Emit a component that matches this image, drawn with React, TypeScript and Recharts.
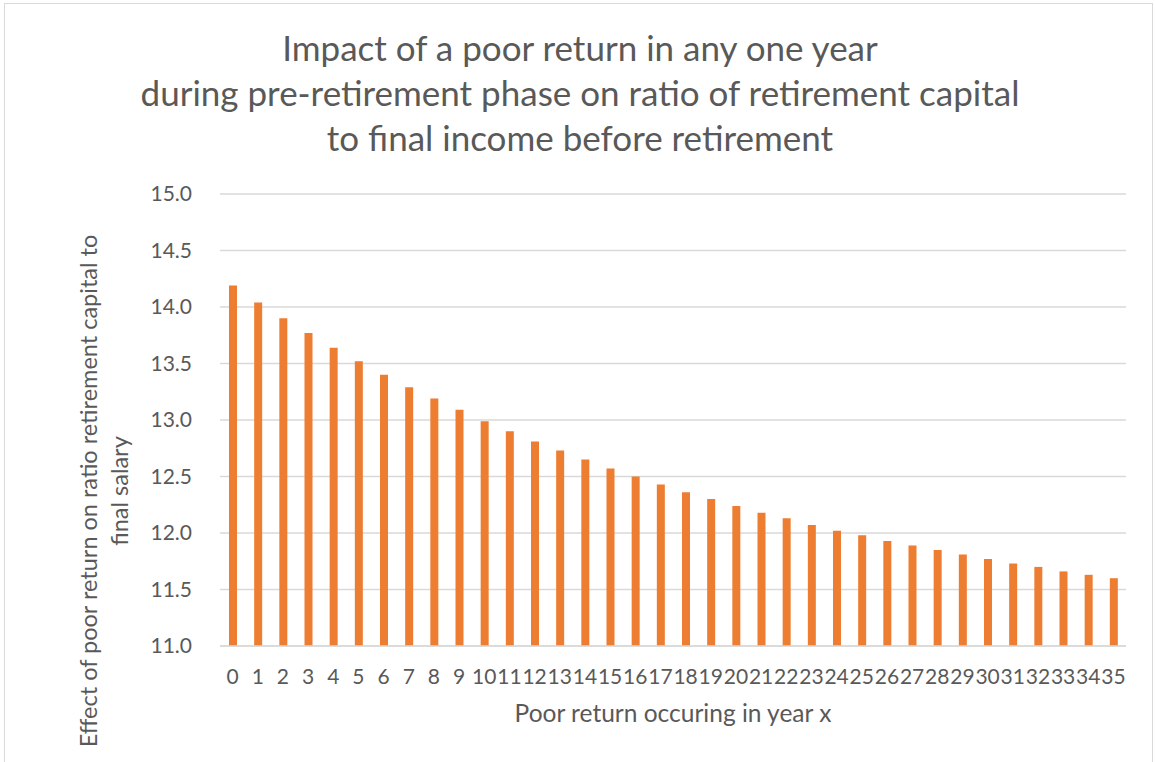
import React from "react";
import { BarChart, Bar, XAxis, YAxis, CartesianGrid } from "recharts";

const years: string[] = [
  "0", "1", "2", "3", "4", "5", "6", "7", "8", "9", "10", "11", "12", "13", "14", "15", "16", "17",
  "18", "19", "20", "21", "22", "23", "24", "25", "26", "27", "28", "29", "30", "31", "32", "33", "34", "35",
];

const ratioValues: number[] = [
  14.19, 14.04, 13.9, 13.77, 13.64, 13.52, 13.4, 13.29, 13.19, 13.09, 12.99, 12.9,
  12.81, 12.73, 12.65, 12.57, 12.5, 12.43, 12.36, 12.3, 12.24, 12.18, 12.13, 12.07,
  12.02, 11.98, 11.93, 11.89, 11.85, 11.81, 11.77, 11.73, 11.7, 11.66, 11.63, 11.6,
];

const yTicks: number[] = [11, 11.5, 12, 12.5, 13, 13.5, 14, 14.5, 15];

const titleLines: string[] = [
  "Impact of a poor return in any one year",
  "during pre-retirement phase on ratio of retirement capital",
  "to final income before retirement",
];

const xTitle = "Poor return occuring in year x";
const yTitleLines: string[] = [
  "Effect of poor return on ratio retirement capital to",
  "final salary",
];

const data = years.map((y, i) => ({ year: y, value: ratioValues[i] }));

const FONT = "Lato, 'Open Sans', sans-serif";
const TEXT = "#595959";

export default function App() {
  return (
    <div
      style={{
        position: "absolute",
        left: 0,
        top: 0,
        width: 1155,
        height: 762,
        overflow: "hidden",
        background: "#fff",
        fontFamily: FONT,
      }}
    >
      <div
        style={{
          position: "absolute",
          left: 4,
          top: 3,
          width: 1149,
          height: 800,
          border: "1px solid #d9d9d9",
          boxSizing: "border-box",
        }}
      />
      <svg
        width={1155}
        height={170}
        style={{ position: "absolute", left: 0, top: 0 }}
      >
        {titleLines.map((t, i) => (
          <text
            key={i}
            x={580}
            y={61 + i * 45}
            textAnchor="middle"
            fontFamily={FONT}
            fontSize={35}
            fill={TEXT}
          >
            {t}
          </text>
        ))}
      </svg>
      <div style={{ position: "absolute", left: 0, top: 0 }}>
        <BarChart
          width={1155}
          height={762}
          data={data}
          margin={{ top: 194, right: 29, bottom: 56, left: 150 }}
        >
          <CartesianGrid vertical={false} stroke="#d9d9d9" strokeWidth={1.5} />
          <XAxis
            dataKey="year"
            interval={0}
            height={60}
            tickLine={false}
            tickSize={0}
            tickMargin={23}
            axisLine={{ stroke: "#d9d9d9", strokeWidth: 1.5 }}
            tick={{ fill: TEXT, fontSize: 21, fontFamily: FONT }}
            label={{
              content: () => (
                <text
                  x={673}
                  y={722}
                  textAnchor="middle"
                  fontFamily={FONT}
                  fontSize={24.5}
                  fill={TEXT}
                >
                  {xTitle}
                </text>
              ),
            }}
          />
          <YAxis
            width={70}
            domain={[11, 15]}
            ticks={yTicks}
            tickFormatter={(v: number) => v.toFixed(1)}
            axisLine={false}
            tickLine={false}
            tickSize={0}
            tickMargin={28}
            tick={{ fill: TEXT, fontSize: 21, fontFamily: FONT }}
            label={{
              content: () => (
                <text
                  transform="translate(97,491) rotate(-90)"
                  textAnchor="middle"
                  fontFamily={FONT}
                  fontSize={23.5}
                  fill={TEXT}
                >
                  <tspan x={0} dy={0}>
                    {yTitleLines[0]}
                  </tspan>
                  <tspan x={0} dy={31}>
                    {yTitleLines[1]}
                  </tspan>
                </text>
              ),
            }}
          />
          <Bar dataKey="value" fill="#ED7D31" barSize={8} isAnimationActive={false} />
        </BarChart>
      </div>
    </div>
  );
}
